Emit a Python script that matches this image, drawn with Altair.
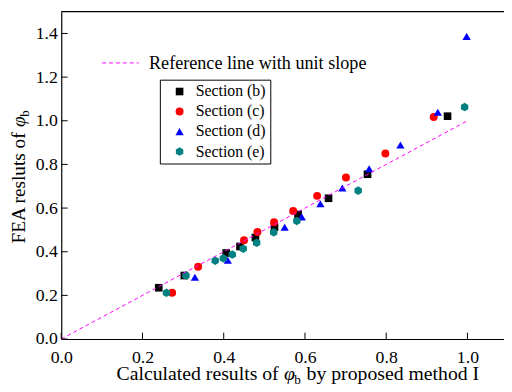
import altair as alt
import pandas as pd

# ---- data ----
sections = ["Section (b)", "Section (c)", "Section (d)", "Section (e)"]
b_x = [0.240, 0.303, 0.406, 0.440, 0.478, 0.525, 0.583, 0.658, 0.754, 0.951]
b_y = [0.235, 0.291, 0.394, 0.424, 0.465, 0.513, 0.571, 0.645, 0.755, 1.021]
c_x = [0.273, 0.337, 0.450, 0.483, 0.524, 0.571, 0.630, 0.701, 0.798, 0.917]
c_y = [0.212, 0.331, 0.453, 0.490, 0.535, 0.587, 0.656, 0.740, 0.850, 1.017]
d_x = [0.329, 0.410, 0.550, 0.592, 0.638, 0.692, 0.758, 0.835, 0.927, 0.998]
d_y = [0.283, 0.361, 0.512, 0.560, 0.620, 0.692, 0.780, 0.889, 1.039, 1.387]
e_x = [0.259, 0.307, 0.379, 0.399, 0.421, 0.448, 0.481, 0.523, 0.580, 0.731, 0.993]
e_y = [0.212, 0.291, 0.359, 0.370, 0.387, 0.414, 0.441, 0.489, 0.541, 0.680, 1.063]
ref_x = [0.0, 1.0]
ref_y = [0.0, 1.0]
ref_name = "Reference line with unit slope"
x_ticks = [0.0, 0.2, 0.4, 0.6, 0.8, 1.0]
y_ticks = [0.0, 0.2, 0.4, 0.6, 0.8, 1.0, 1.2, 1.4]
x_title_a = "Calculated results of"
x_title_c = "by proposed method I"
y_title_a = "FEA resluts of"
phi = "φ"
sub_b = "b"

colors = ["#000000", "#FF0000", "#0000FF", "#008080"]
hexagon = "M0,-1L0.866,-0.5L0.866,0.5L0,1L-0.866,0.5L-0.866,-0.5Z"
shapes = ["square", "circle", "triangle-up", hexagon]
sizes = [60, 75, 95, 95]

rows = []
for name, xs_, ys_ in zip(sections, [b_x, c_x, d_x, e_x], [b_y, c_y, d_y, e_y]):
    for a, b in zip(xs_, ys_):
        rows.append({"section": name, "calc": a, "fea": b})
pts_df = pd.DataFrame(rows)
ref_df = pd.DataFrame({"rx": ref_x, "ry": ref_y, "name": [ref_name] * len(ref_x)})

FONT = "Liberation Serif"
W, H = 449, 332
xs = alt.Scale(domain=[0, 1.09], nice=False, zero=False)
ys = alt.Scale(domain=[0, 1.5], nice=False, zero=False)

ax_common = dict(title=None, ticks=False, grid=False, format=".1f", labelFlush=False,
                 labelFont=FONT, labelFontSize=18, labelColor="black",
                 domainColor="black", domainWidth=1.2)
ax_x = alt.Axis(values=x_ticks, labelPadding=9.5, **ax_common)
ax_y = alt.Axis(values=y_ticks, labelPadding=4, **ax_common)

leg_pts = alt.Legend(title=None, orient="none", legendX=100, legendY=69,
                     strokeColor="black", padding=4, labelFont=FONT,
                     labelFontSize=16, labelColor="black", symbolSize=75,
                     symbolOffset=8, labelOffset=8.5, rowPadding=4.3,
                     symbolStrokeWidth=0)

pts = alt.Chart(pts_df).mark_point(filled=True, opacity=1, strokeWidth=0).encode(
    x=alt.X("calc:Q", scale=xs, axis=ax_x),
    y=alt.Y("fea:Q", scale=ys, axis=ax_y),
    color=alt.Color("section:N", scale=alt.Scale(domain=sections, range=colors), legend=leg_pts),
    shape=alt.Shape("section:N", scale=alt.Scale(domain=sections, range=shapes), legend=leg_pts),
    size=alt.Size("section:N", scale=alt.Scale(domain=sections, range=sizes), legend=None),
)

line = alt.Chart(ref_df).mark_line(color="#FF00FF", strokeWidth=1).encode(
    x=alt.X("rx:Q", scale=xs, axis=ax_x),
    y=alt.Y("ry:Q", scale=ys, axis=ax_y),
    strokeDash=alt.StrokeDash(
        "name:N", scale=alt.Scale(domain=[ref_name], range=[[4, 3]]),
        legend=alt.Legend(title=None, orient="none", legendX=41, legendY=33,
                          symbolType="stroke", symbolSize=1369,
                          symbolStrokeColor="#FF00FF", symbolStrokeWidth=1,
                          labelFont=FONT, labelFontSize=18.4, labelColor="black",
                          labelOffset=10, labelLimit=400, padding=0)),
)

xt = alt.Chart(pd.DataFrame({"v": x_ticks})).mark_rule(color="black", strokeWidth=1).encode(
    x=alt.X("v:Q", scale=xs, axis=ax_x), y=alt.value(H), y2=alt.value(H - 6.5))
yt = alt.Chart(pd.DataFrame({"v": y_ticks})).mark_rule(color="black", strokeWidth=1).encode(
    y=alt.Y("v:Q", scale=ys, axis=ax_y), x=alt.value(0), x2=alt.value(6.5))
top = alt.Chart(pd.DataFrame({"v": [1.5]})).mark_rule(color="black", strokeWidth=1.2).encode(
    y=alt.Y("v:Q", scale=ys, axis=ax_y), x=alt.value(0), x2=alt.value(W))


def txt(s, x, y, size=20, align="left", angle=0, italic=False):
    kw = dict(font=FONT, fontSize=size, align=align, baseline="alphabetic",
              color="black", angle=angle)
    if italic:
        kw["fontStyle"] = "italic"
    return alt.Chart(pd.DataFrame({"t": [s]})).mark_text(**kw).encode(
        text="t:N", x=alt.value(x), y=alt.value(y))


SP = 5.5            # width of a space
PX, TY = 226, 374   # x title anchor (phi start) and baseline
PHW = 10.3          # phi width
QY, TX = 117, -36.5 # y title anchor (phi start) and baseline
titles = [
    txt(x_title_a, PX - SP, TY, align="right"),
    txt(phi, PX, TY, italic=True),
    txt(sub_b, PX + PHW, TY + 4, size=13.5),
    txt(x_title_c, PX + PHW + 7 + SP, TY),
    txt(y_title_a, TX, QY + SP, align="right", angle=270, size=19.5),
    txt(phi, TX, QY, angle=270, italic=True, size=19.5),
    txt(sub_b, TX + 4, QY - PHW, size=13, angle=270),
]

chart = alt.layer(pts, line, yt, xt, top, *titles).properties(
    width=W, height=H,
    autosize=alt.AutoSizeParams(type="none"),
    padding={"left": 54, "top": 1, "right": 0, "bottom": 50},
).configure(font=FONT).configure_view(stroke=None).configure_axis(
    labelFont=FONT, labelFontSize=18, labelColor="black"
).configure_legend(labelFont=FONT, labelColor="black")

chart.save("out.html", embed_options={"renderer": "svg", "actions": False})
